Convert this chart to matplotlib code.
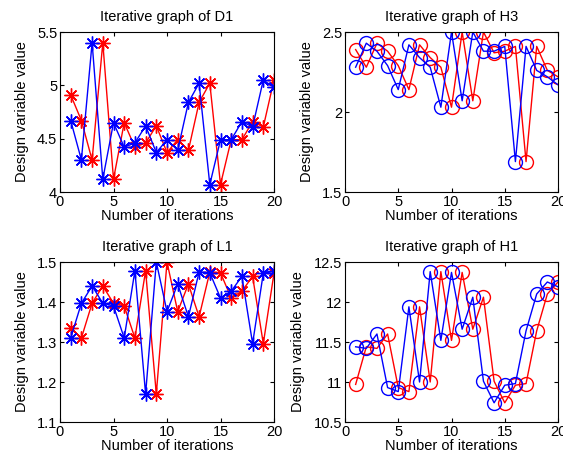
import matplotlib
matplotlib.use('Agg')
from matplotlib import pyplot as plt
import numpy as np

iters = np.arange(1, 21)

d1_blue = [4.67, 4.30, 5.40, 4.12, 4.65, 4.42, 4.46, 4.62, 4.37, 4.49,
           4.39, 4.84, 5.02, 4.07, 4.49, 4.49, 4.66, 4.61, 5.05, 4.98]
d1_red = [4.91, 4.67, 4.30, 5.40, 4.12, 4.65, 4.42, 4.46, 4.62, 4.37,
          4.49, 4.39, 4.84, 5.02, 4.07, 4.49, 4.49, 4.66, 4.61, 5.05]

h3_blue = [2.28, 2.43, 2.38, 2.29, 2.14, 2.42, 2.34, 2.28, 2.03, 2.50,
           2.07, 2.50, 2.38, 2.38, 2.41, 1.69, 2.41, 2.26, 2.22, 2.17]
h3_red = [2.39, 2.28, 2.43, 2.38, 2.29, 2.14, 2.42, 2.34, 2.28, 2.03,
          2.50, 2.07, 2.50, 2.37, 2.38, 2.41, 1.69, 2.41, 2.26, 2.22]

l1_blue = [1.310, 1.397, 1.440, 1.397, 1.390, 1.310, 1.478, 1.170, 1.500, 1.376,
           1.445, 1.363, 1.475, 1.473, 1.410, 1.427, 1.464, 1.296, 1.472, 1.477]
l1_red = [1.334, 1.310, 1.397, 1.440, 1.397, 1.390, 1.310, 1.478, 1.170, 1.500,
          1.376, 1.445, 1.363, 1.475, 1.473, 1.410, 1.427, 1.464, 1.296, 1.472]

h1_blue = [11.44, 11.42, 11.60, 10.93, 10.88, 11.94, 11.00, 12.38, 11.52, 12.37,
           11.66, 12.06, 11.01, 10.74, 10.96, 10.98, 11.64, 12.10, 12.25, 12.19]
h1_red = [10.97, 11.44, 11.42, 11.60, 10.93, 10.88, 11.94, 11.00, 12.38, 11.52,
          12.37, 11.66, 12.06, 11.01, 10.74, 10.96, 10.98, 11.64, 12.10, 12.25]

plt.rcParams['font.family'] = ['Liberation Sans', 'DejaVu Sans']

W, H = 563, 463
fig = plt.figure(figsize=(W / 100, H / 100), dpi=100)


def make_axes(left, top, right, bottom):
    return fig.add_axes([left / W, 1 - bottom / H, (right - left) / W, (bottom - top) / H])


panels = [
    # (box px, title, blue, red, marker, ylim, yticks, yticklabels)
    ((60, 32, 274, 192), 'D1', d1_blue, d1_red, '*', (4, 5.5),
     [4, 4.5, 5, 5.5], ['4', '4.5', '5', '5.5']),
    ((345, 32, 558, 192), 'H3', h3_blue, h3_red, 'o', (1.5, 2.5),
     [1.5, 2, 2.5], ['1.5', '2', '2.5']),
    ((60, 262, 274, 422), 'L1', l1_blue, l1_red, '*', (1.1, 1.5),
     [1.1, 1.2, 1.3, 1.4, 1.5], ['1.1', '1.2', '1.3', '1.4', '1.5']),
    ((345, 262, 558, 422), 'H1', h1_blue, h1_red, 'o', (10.5, 12.5),
     [10.5, 11, 11.5, 12, 12.5], ['10.5', '11', '11.5', '12', '12.5']),
]

for box, name, blue, red, mk, ylim, yt, ytl in panels:
    ax = make_axes(*box)
    if mk == '*':
        # matlab style asterisk: plus + cross
        kw = dict(marker=(8, 2, 0), markersize=10, markeredgewidth=1, lw=1)
    else:
        kw = dict(marker='o', markersize=10, markerfacecolor='none',
                  markeredgewidth=1, lw=1)
    ax.plot(iters, red, color='r', markeredgecolor='r', **kw)
    ax.plot(iters, blue, color='b', markeredgecolor='b', **kw)
    ax.set_xlim(0, 20)
    ax.set_ylim(*ylim)
    ax.set_xticks([0, 5, 10, 15, 20])
    ax.set_yticks(yt)
    ax.set_yticklabels(ytl)
    ax.tick_params(direction='in', top=True, right=True, length=3,
                   labelsize=10.5, pad=2)
    ax.set_title('Iterative graph of ' + name, fontsize=10.5, pad=8)
    ax.set_xlabel('Number of iterations', fontsize=10.5, labelpad=0)
    ax.set_ylabel('Design variable value', fontsize=10.5, labelpad=6)
    for s in ax.spines.values():
        s.set_linewidth(0.8)

fig.savefig('out.png', dpi=100)
